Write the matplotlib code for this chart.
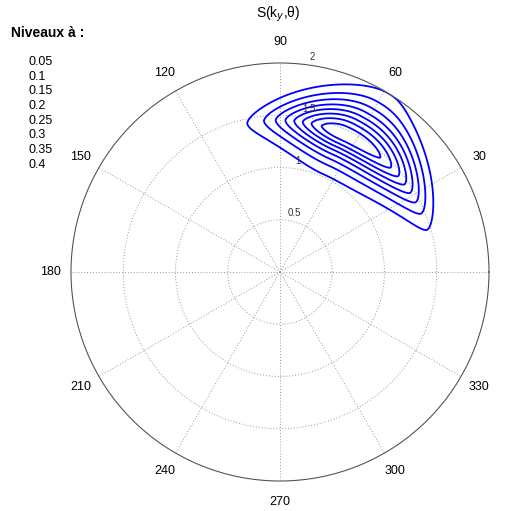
import numpy as np
import matplotlib.pyplot as plt

# contour levels shown in the legend
levels = [0.05, 0.1, 0.15, 0.2, 0.25, 0.3, 0.35, 0.4]

# spectrum shape
peak_value = 0.45
peak_k = 1.455         # radius of the peak
k_width_low = 0.255
k_width_high = 0.322
k_power = 1.5
peak_dir = 66.0        # degrees, at the peak radius
dir_turn = -13.5       # degrees per unit of radius beyond the peak
dir_width_up = 17.6
dir_width_low = 37.0
dir_power_low = 2.7
# how fast the spreading narrows away from the peak radius
narrow_inner = 0.5
narrow_outer_up = 1.13
narrow_outer_low = 1.6

angle_ticks = list(range(0, 360, 30))
ring_ticks = [0.5, 1, 1.5, 2]
r_max = 2.0


def spectrum(r, th):
    dr = r - peak_k
    sig = np.where(dr < 0, k_width_low, k_width_high)
    radial = np.exp(-(np.abs(dr) / sig) ** k_power)
    eps = 0.08
    soft_abs = np.sqrt(dr ** 2 + eps ** 2) - eps
    w_up = 1 - np.where(dr < 0, narrow_inner, narrow_outer_up) * soft_abs
    w_low = 1 - np.where(dr < 0, narrow_inner, narrow_outer_low) * soft_abs
    w_up = np.clip(w_up, 0.1, None)
    w_low = np.clip(w_low, 0.1, None)
    centre = peak_dir + dir_turn * 0.05 * np.logaddexp(0, dr / 0.05)
    d = (th - centre + 180) % 360 - 180
    ang = np.where(d > 0, np.exp(-0.5 * (d / (dir_width_up * w_up)) ** 2),
                   np.exp(-(np.abs(d) / (dir_width_low * w_low)) ** dir_power_low))
    return peak_value * radial * ang


plt.rcParams['font.family'] = ['Liberation Sans', 'DejaVu Sans']

fig = plt.figure(figsize=(5.07, 5.11), dpi=100)
ax = fig.add_axes([0.140, 0.0587, 0.8245, 0.818], projection='polar')
ax.set_ylim(0, r_max)
ax.set_xticks([])
ax.set_yticks([])
ax.grid(False)
ax.spines['polar'].set_color('#555555')
ax.spines['polar'].set_linewidth(0.8)

# grid: spokes and rings
grid_kw = dict(color='#999999', linestyle=(0, (1, 2)), linewidth=0.7)
for a in angle_ticks:
    ax.plot([np.deg2rad(a)] * 2, [0, r_max], **grid_kw)
tt = np.linspace(0, 2 * np.pi, 400)
for r in ring_ticks[:-1]:
    ax.plot(tt, np.full_like(tt, r), **grid_kw)

# angle labels
for a in angle_ticks:
    ax.text(np.deg2rad(a), 1.1 * r_max, str(a), ha='center', va='center',
            fontsize=9, clip_on=False)
# ring labels
for r in ring_ticks:
    ax.text(np.deg2rad(82), r + 0.025, f"{r:g}", ha='left', va='bottom',
            fontsize=7, color='#333333')

# contours
th = np.linspace(0, 360, 1441)
rr = np.linspace(0, r_max + 0.1, 600)
T, R = np.meshgrid(th, rr)
S = spectrum(R, T)
ax.contour(np.deg2rad(T), R, S, levels=levels, colors='blue', linewidths=1.3)
ax.set_ylim(0, r_max)

fig.text(0.548, 0.972, r"S(k$_y$,θ)", ha='center', va='center', fontsize=10)
fig.text(0.022, 0.936, "Niveaux à :", ha='left', va='center', fontsize=10,
         fontweight='bold')
for i, lv in enumerate(levels):
    fig.text(0.057, 1 - (62 + i * 14.7) / 511, f"{lv:g}", ha='left',
             va='center', fontsize=9)

fig.savefig('out.png', dpi=100)
